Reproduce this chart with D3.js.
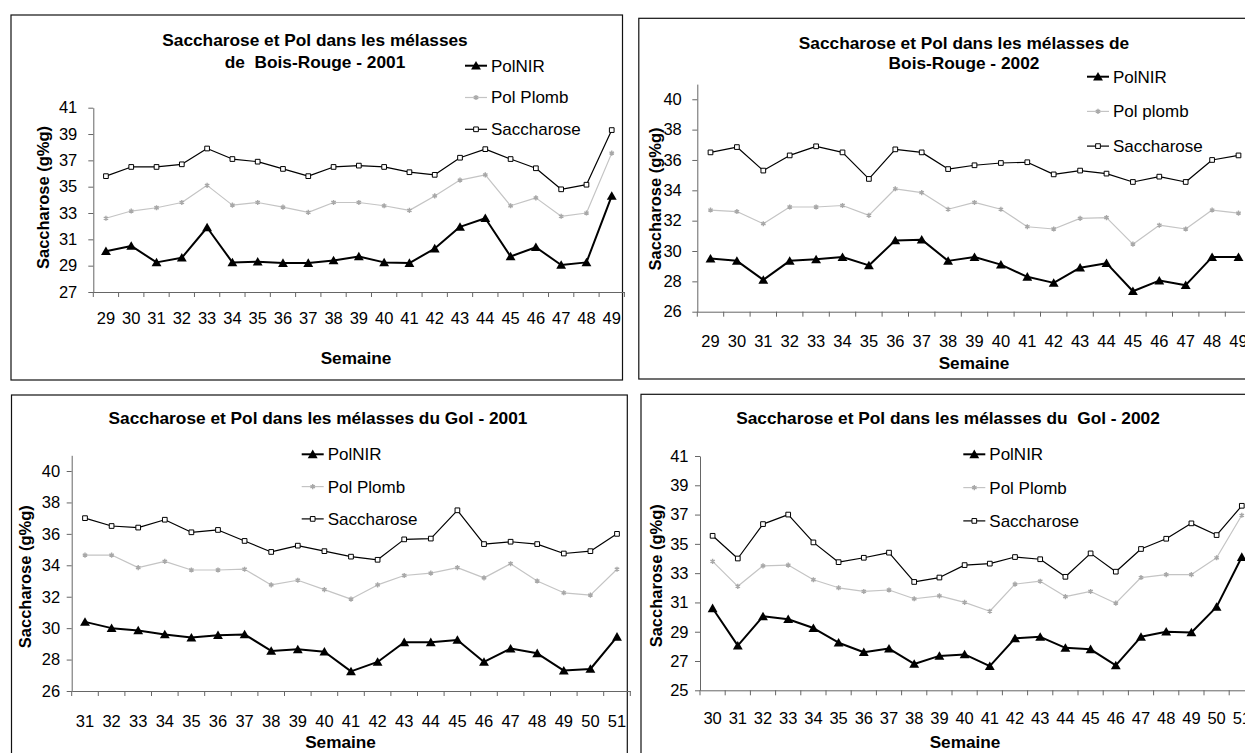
<!DOCTYPE html>
<html>
<head>
<meta charset="utf-8">
<script src="https://cdn.jsdelivr.net/npm/d3@7"></script>
<style>
  body { margin: 0; background: #fff; }
  svg { display: block; font-family: "Liberation Sans", Arial, sans-serif; }
</style>
</head>
<body>
<div id="chart"></div>
<script>
// Week categories
const weeksBR = [29, 30, 31, 32, 33, 34, 35, 36, 37, 38, 39, 40, 41, 42, 43, 44, 45, 46, 47, 48, 49];
const weeksGol2001 = [31, 32, 33, 34, 35, 36, 37, 38, 39, 40, 41, 42, 43, 44, 45, 46, 47, 48, 49, 50, 51];
const weeksGol2002 = [30, 31, 32, 33, 34, 35, 36, 37, 38, 39, 40, 41, 42, 43, 44, 45, 46, 47, 48, 49, 50, 51];

// Bois-Rouge 2001
const br2001PolNIR = [30.1, 30.5, 29.25, 29.6, 31.9, 29.25, 29.3, 29.2, 29.2, 29.4, 29.7, 29.25, 29.2, 30.3, 31.95, 32.6, 29.7, 30.4, 29.05, 29.25, 34.3];
const br2001PolPlomb = [32.6, 33.15, 33.4, 33.8, 35.1, 33.6, 33.8, 33.45, 33.05, 33.8, 33.8, 33.55, 33.2, 34.3, 35.5, 35.9, 33.55, 34.15, 32.75, 33.0, 37.55];
const br2001Sacch = [35.8, 36.5, 36.5, 36.7, 37.9, 37.1, 36.9, 36.35, 35.8, 36.5, 36.6, 36.5, 36.1, 35.9, 37.2, 37.85, 37.1, 36.4, 34.8, 35.15, 39.3];

// Bois-Rouge 2002
const br2002PolNIR = [29.5, 29.35, 28.1, 29.35, 29.45, 29.6, 29.05, 30.7, 30.75, 29.35, 29.6, 29.1, 28.3, 27.9, 28.9, 29.2, 27.35, 28.05, 27.75, 29.6, 29.6];
const br2002PolPlomb = [32.7, 32.6, 31.8, 32.9, 32.9, 33.0, 32.35, 34.1, 33.85, 32.75, 33.2, 32.75, 31.6, 31.45, 32.15, 32.2, 30.45, 31.7, 31.45, 32.7, 32.5];
const br2002Sacch = [36.5, 36.85, 35.3, 36.3, 36.9, 36.5, 34.75, 36.7, 36.5, 35.4, 35.65, 35.8, 35.85, 35.05, 35.3, 35.1, 34.55, 34.9, 34.55, 36.0, 36.3];

// Gol 2001
const gol2001PolNIR = [30.4, 30.0, 29.85, 29.6, 29.4, 29.55, 29.6, 28.55, 28.65, 28.5, 27.25, 27.85, 29.1, 29.1, 29.25, 27.85, 28.7, 28.4, 27.3, 27.4, 29.45];
const gol2001PolPlomb = [34.65, 34.65, 33.85, 34.25, 33.7, 33.7, 33.75, 32.75, 33.05, 32.45, 31.85, 32.75, 33.35, 33.5, 33.85, 33.2, 34.1, 33.0, 32.25, 32.1, 33.75];
const gol2001Sacch = [37.0, 36.5, 36.4, 36.9, 36.1, 36.25, 35.55, 34.85, 35.25, 34.9, 34.55, 34.35, 35.65, 35.7, 37.5, 35.35, 35.5, 35.35, 34.75, 34.9, 36.0];

// Gol 2002
const gol2002PolNIR = [30.6, 28.05, 30.05, 29.85, 29.25, 28.25, 27.6, 27.85, 26.8, 27.35, 27.45, 26.65, 28.55, 28.65, 27.9, 27.8, 26.7, 28.65, 29.0, 28.95, 30.7, 34.1];
const gol2002PolPlomb = [33.8, 32.1, 33.5, 33.55, 32.55, 32.0, 31.75, 31.85, 31.25, 31.45, 31.0, 30.4, 32.25, 32.45, 31.4, 31.75, 30.95, 32.7, 32.9, 32.9, 34.05, 36.95];
const gol2002Sacch = [35.55, 34.0, 36.35, 37.0, 35.1, 33.75, 34.05, 34.4, 32.4, 32.7, 33.55, 33.65, 34.1, 33.95, 32.75, 34.35, 33.1, 34.65, 35.35, 36.4, 35.6, 37.6];

// Y tick values
const ticksBR2001 = [27, 29, 31, 33, 35, 37, 39, 41];
const ticksBR2002 = [26, 28, 30, 32, 34, 36, 38, 40];
const ticksGol2001 = [26, 28, 30, 32, 34, 36, 38, 40];
const ticksGol2002 = [25, 27, 29, 31, 33, 35, 37, 39, 41];

const W = 1245, H = 753;
const FONT = 16.5;

const svg = d3.select("#chart").append("svg")
  .attr("width", W)
  .attr("height", H);

// Style of each series
const styles = {
  nir: { stroke: "#000", width: 2, symbol: d3.symbolTriangle, size: 42, fill: "#000", mstroke: "none" },
  plomb: { stroke: "#c4c4c4", width: 1.2, symbol: d3.symbolAsterisk, size: 18, fill: "none", mstroke: "#a8a8a8" },
  sacch: { stroke: "#000", width: 1.2, symbol: d3.symbolSquare, size: 22, fill: "#fff", mstroke: "#000" },
};

function drawPanel(cfg) {
  const g = svg.append("g");

  // frame
  g.append("rect")
    .attr("x", cfg.box[0]).attr("y", cfg.box[1])
    .attr("width", cfg.box[2] - cfg.box[0]).attr("height", cfg.box[3] - cfg.box[1])
    .attr("fill", "none").attr("stroke", "#111").attr("stroke-width", 1.2);

  const x = d3.scaleBand()
    .domain(cfg.weeks)
    .range([cfg.x0, cfg.x0 + cfg.step * cfg.weeks.length]);

  const y = d3.scaleLinear()
    .domain(cfg.yDomain)
    .range([cfg.yBottom, cfg.yTop]);

  // y axis
  const yAxis = g.append("g")
    .attr("transform", `translate(${cfg.x0},0)`)
    .call(d3.axisLeft(y).tickValues(cfg.yTicks).tickSize(5).tickSizeOuter(0).tickPadding(cfg.yPad));
  yAxis.select(".domain").attr("stroke", "#666");
  yAxis.selectAll(".tick line").attr("stroke", "#666");
  yAxis.selectAll("text").attr("font-size", FONT).attr("font-family", null).attr("fill", "#000");

  // x axis (labels centred in each band)
  const xAxis = g.append("g")
    .attr("transform", `translate(0,${cfg.yBottom})`)
    .call(d3.axisBottom(x).tickSize(0).tickSizeOuter(0));
  xAxis.select(".domain").attr("stroke", "#666");
  xAxis.selectAll("text")
    .attr("font-size", FONT).attr("font-family", null).attr("fill", "#000")
    .attr("y", cfg.xLabelOff).attr("dy", "0.35em");

  // boundary tick marks between categories
  const bounds = cfg.weeks.map((w) => x(w)).concat([x.range()[1]]);
  g.selectAll(null).data(bounds).join("line")
    .attr("x1", (d) => d).attr("x2", (d) => d)
    .attr("y1", cfg.yBottom).attr("y2", cfg.yBottom + 5)
    .attr("stroke", "#666");

  // series
  const series = [
    { key: "nir", values: cfg.nir },
    { key: "plomb", values: cfg.plomb },
    { key: "sacch", values: cfg.sacch },
  ];
  const line = d3.line()
    .x((d) => x(d.w) + x.bandwidth() / 2)
    .y((d) => y(d.v));

  // draw grey line first so black lines sit on top
  ["plomb", "sacch", "nir"].forEach((key) => {
    const s = series.find((d) => d.key === key);
    const st = styles[key];
    const pts = cfg.weeks.map((w, i) => ({ w, v: s.values[i] }));
    g.append("path")
      .datum(pts)
      .attr("d", line)
      .attr("fill", "none")
      .attr("stroke", st.stroke)
      .attr("stroke-width", st.width)
      .attr("stroke-linejoin", "round");
    g.selectAll(null).data(pts).join("path")
      .attr("transform", (d) => `translate(${x(d.w) + x.bandwidth() / 2},${y(d.v) + (key === "nir" ? 1 : 0)})`)
      .attr("d", d3.symbol(st.symbol, st.size))
      .attr("fill", st.fill)
      .attr("stroke", st.mstroke)
      .attr("stroke-width", key === "plomb" ? 1.4 : 1);
  });

  // title
  cfg.title.forEach((t, i) => {
    g.append("text")
      .attr("x", cfg.titleX).attr("y", cfg.titleY + i * cfg.titleGap)
      .attr("text-anchor", "middle").attr("dy", "0.35em")
      .attr("font-size", 17.3).attr("font-weight", "bold")
      .style("white-space", "pre")
      .text(t);
  });

  // axis titles
  g.append("text")
    .attr("transform", `translate(${cfg.yLabel[0]},${cfg.yLabel[1]}) rotate(-90)`)
    .attr("text-anchor", "middle").attr("dy", "0.35em")
    .attr("font-size", 16.5).attr("font-weight", "bold")
    .text("Saccharose (g%g)");
  g.append("text")
    .attr("x", cfg.xLabel[0]).attr("y", cfg.xLabel[1])
    .attr("text-anchor", "middle").attr("dy", "0.35em")
    .attr("font-size", 17.2).attr("font-weight", "bold")
    .text("Semaine");

  // legend
  const leg = g.append("g").attr("transform", `translate(${cfg.legend[0]},${cfg.legend[1]})`);
  series.forEach((s, i) => {
    const st = styles[s.key];
    const yy = i * cfg.legendGap;
    leg.append("line")
      .attr("x1", 0).attr("x2", 22).attr("y1", yy).attr("y2", yy)
      .attr("stroke", st.stroke).attr("stroke-width", s.key === "nir" ? 2 : 1.2);
    leg.append("path")
      .attr("transform", `translate(11,${yy + (s.key === "nir" ? 1 : 0)})`)
      .attr("d", d3.symbol(st.symbol, st.size))
      .attr("fill", st.fill).attr("stroke", st.mstroke)
      .attr("stroke-width", s.key === "plomb" ? 1.4 : 1);
    leg.append("text")
      .attr("x", 26).attr("y", yy).attr("dy", "0.35em")
      .attr("font-size", 17)
      .text(cfg.legendLabels[i]);
  });
}

drawPanel({
  box: [11, 15, 622.5, 380],
  weeks: weeksBR, nir: br2001PolNIR, plomb: br2001PolPlomb, sacch: br2001Sacch,
  x0: 93.3, step: 25.29, yDomain: [27, 41], yTicks: ticksBR2001, yBottom: 292, yTop: 107.7,
  yPad: 11, xLabelOff: 26,
  title: ["Saccharose et Pol dans les mélasses", "de  Bois-Rouge - 2001"],
  titleX: 315, titleY: 40, titleGap: 21.7,
  yLabel: [43.3, 197.5], xLabel: [356, 358],
  legend: [465, 65.7], legendGap: 31.8,
  legendLabels: ["PolNIR", "Pol Plomb", "Saccharose"],
});

drawPanel({
  box: [638.8, 18.3, 1260, 379],
  weeks: weeksBR, nir: br2002PolNIR, plomb: br2002PolPlomb, sacch: br2002Sacch,
  x0: 697.3, step: 26.4, yDomain: [26, 41], yTicks: ticksBR2002, yBottom: 311.7, yTop: 84.1,
  yPad: 10.5, xLabelOff: 30,
  title: ["Saccharose et Pol dans les mélasses de", "Bois-Rouge - 2002"],
  titleX: 964, titleY: 42.7, titleGap: 20.6,
  yLabel: [655, 199], xLabel: [974, 363],
  legend: [1087, 76.7], legendGap: 34.7,
  legendLabels: ["PolNIR", "Pol plomb", "Saccharose"],
});

drawPanel({
  box: [11.5, 395, 627.3, 770],
  weeks: weeksGol2001, nir: gol2001PolNIR, plomb: gol2001PolPlomb, sacch: gol2001Sacch,
  x0: 71.7, step: 26.6, yDomain: [26, 41], yTicks: ticksGol2001, yBottom: 691, yTop: 455.3,
  yPad: 6.5, xLabelOff: 30,
  title: ["Saccharose et Pol dans les mélasses du Gol - 2001"],
  titleX: 318, titleY: 418, titleGap: 0,
  yLabel: [25, 576.7], xLabel: [340.5, 741.7],
  legend: [301.7, 454.3], legendGap: 32.3,
  legendLabels: ["PolNIR", "Pol Plomb", "Saccharose"],
});

drawPanel({
  box: [641, 394.3, 1260, 770],
  weeks: weeksGol2002, nir: gol2002PolNIR, plomb: gol2002PolPlomb, sacch: gol2002Sacch,
  x0: 700, step: 25.2, yDomain: [25, 41], yTicks: ticksGol2002, yBottom: 690.3, yTop: 456,
  yPad: 6.5, xLabelOff: 28,
  title: ["Saccharose et Pol dans les mélasses du  Gol - 2002"],
  titleX: 948, titleY: 418.3, titleGap: 0,
  yLabel: [656.7, 575.8], xLabel: [965, 741.7],
  legend: [963.3, 454.3], legendGap: 33.3,
  legendLabels: ["PolNIR", "Pol Plomb", "Saccharose"],
});
</script>
</body>
</html>
